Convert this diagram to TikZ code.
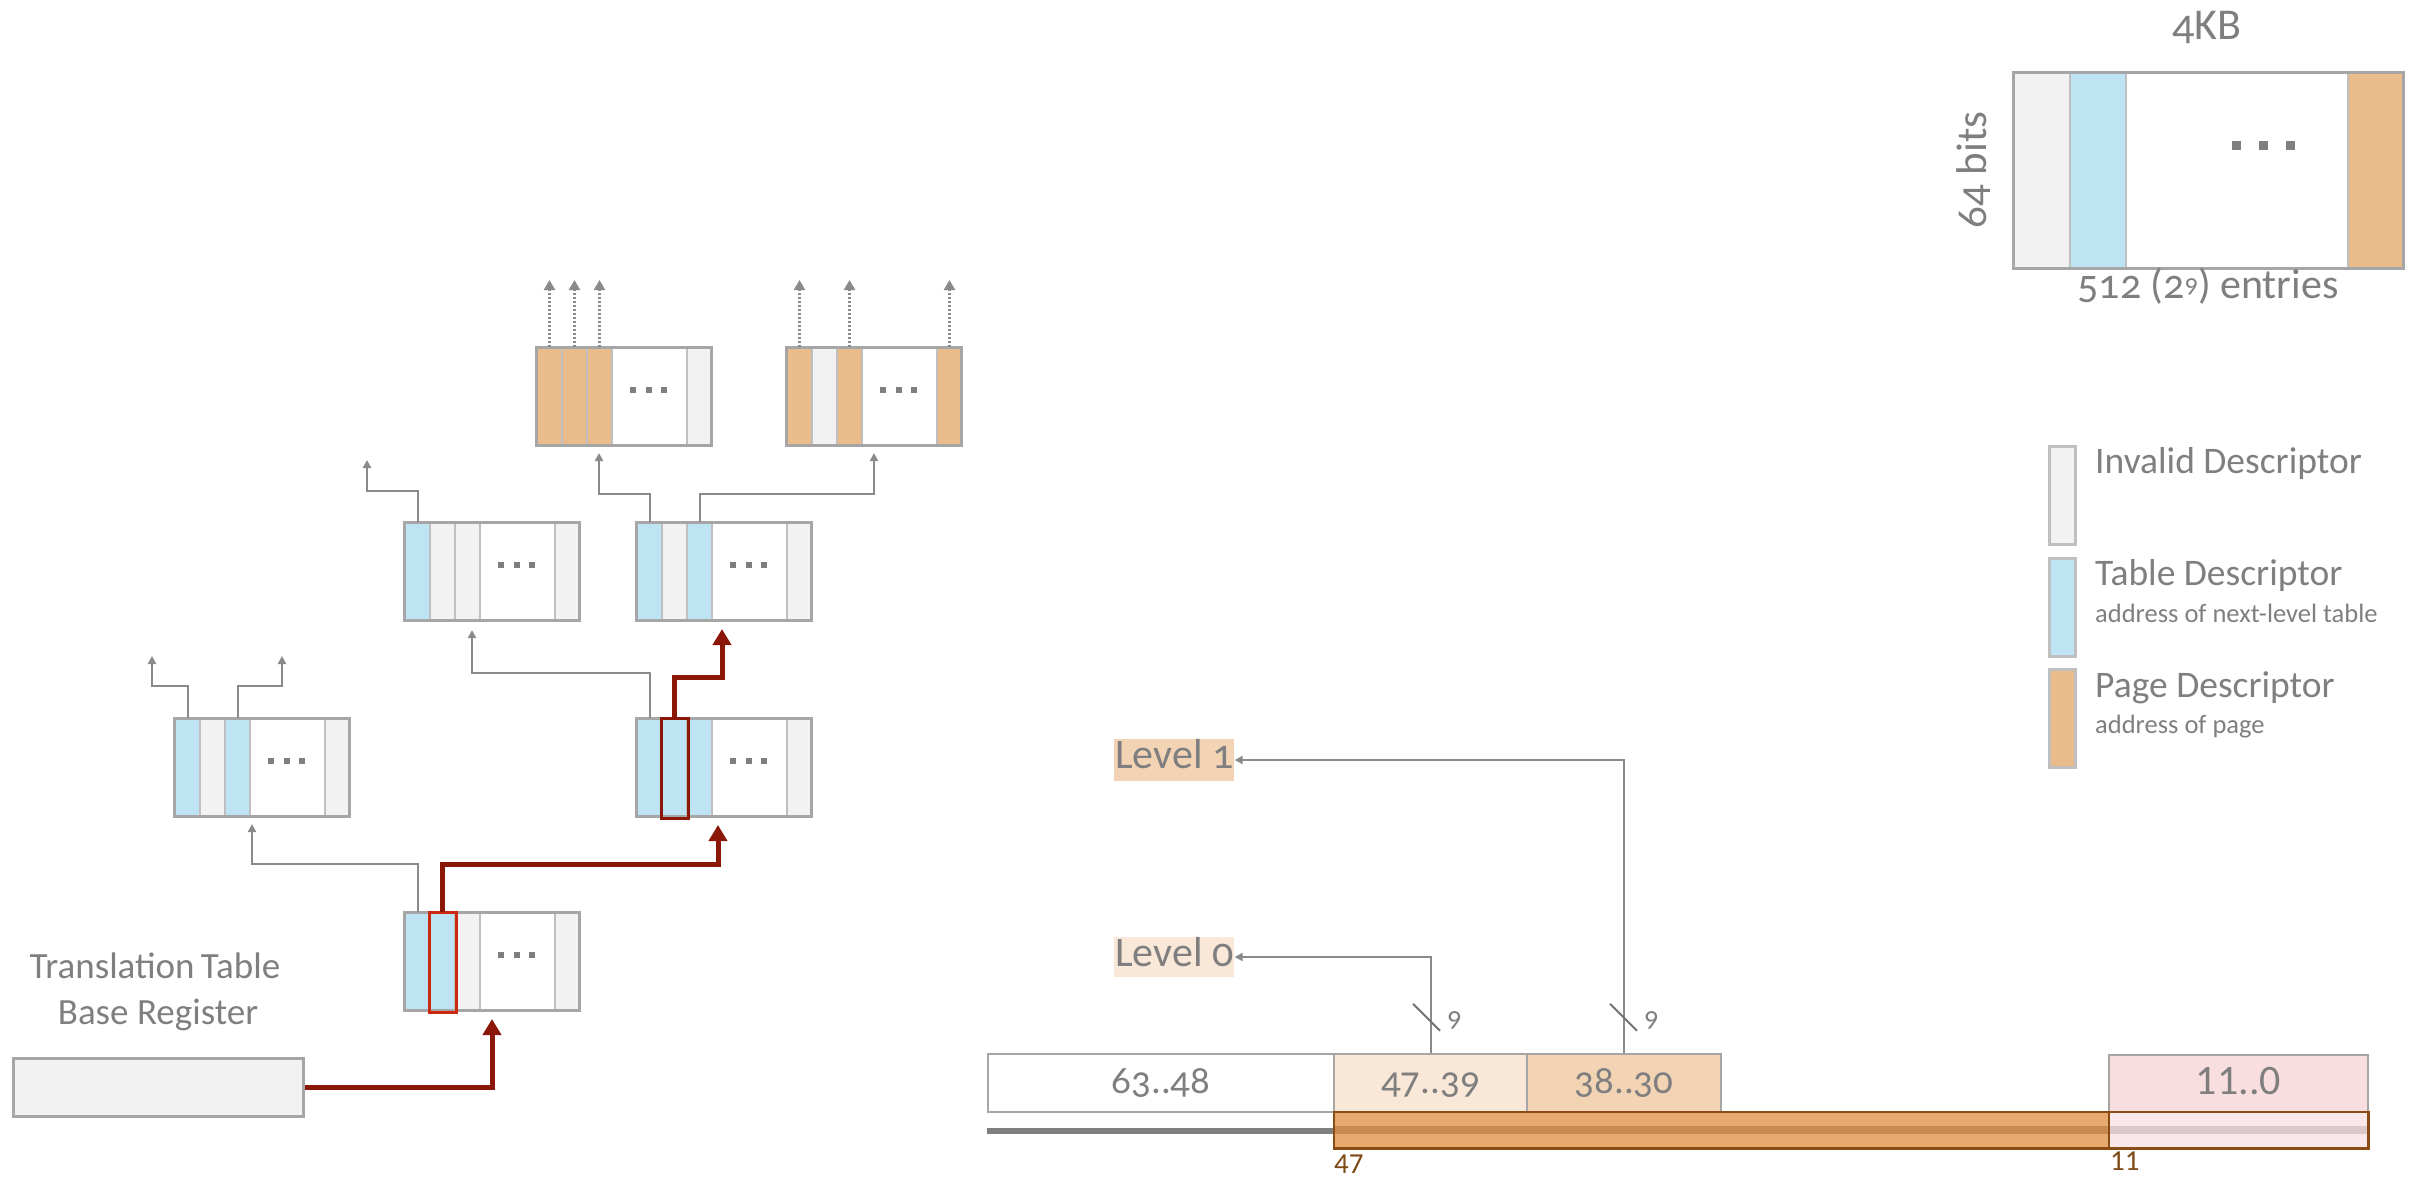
\documentclass[tikz,border=0pt]{standalone}
\usepackage{fontspec}
\setmainfont{Carlito}[Numbers=OldStyle]
\newfontfamily\lining{Carlito}[Numbers=Lining]
\usetikzlibrary{arrows.meta,calc}

\definecolor{txtgray}{HTML}{7F7F7F}
\definecolor{frame}{HTML}{A6A6A6}
\definecolor{sep}{HTML}{BFBFBF}
\definecolor{inv}{HTML}{F2F2F2}
\definecolor{tbl}{HTML}{BEE3F3}
\definecolor{pg}{HTML}{EABB8B}
\definecolor{wirec}{HTML}{8A8A8A}
\definecolor{walkc}{HTML}{8B1708}
\definecolor{hot}{HTML}{CC2A10}
\definecolor{lvA}{HTML}{F9E7D8}
\definecolor{lvB}{HTML}{F2D3B4}
\definecolor{lowbits}{HTML}{F9DEE0}
\definecolor{barbrown}{HTML}{8B4B14}
\definecolor{barfill}{HTML}{E6A96E}
\definecolor{barstripe}{HTML}{C98B52}
\definecolor{pinkbar}{HTML}{FAE7E9}
\definecolor{pinkstripe}{HTML}{DCC7C9}
\definecolor{numbrown}{HTML}{7E4A16}

\tikzset{
  cellbox/.style={draw=sep, line width=2pt, inner sep=0pt, minimum width=25pt,
    minimum height=98pt, anchor=north west},
  tblframe/.style={draw=frame, line width=3pt, inner sep=0pt, minimum width=175pt,
    minimum height=98pt},
  wire/.style={draw=wirec, line width=2pt, -{Triangle[width=8pt,length=8pt]}},
  leaf/.style={draw=wirec, line width=2.5pt, dash pattern=on 2.2pt off 1.8pt,
    -{Triangle[width=11pt,length=10pt]}},
  walk/.style={draw=walkc, line width=5pt, -{Triangle[width=18pt,length=16pt]}},
  lbl/.style={text=txtgray, inner sep=0pt},
  field/.style={draw=frame, line width=2.5pt, inner sep=0pt, text=txtgray,
    text height=39pt, text depth=19pt, anchor=base,
    font=\fontsize{39}{42}\selectfont},
  swatch/.style={draw=sep, line width=3pt, inner sep=0pt, minimum width=26pt,
    minimum height=98pt, anchor=north west},
}

% one 4KB translation table: name, left, top, fills of entries 0,1,2 and the last one
\newcommand\pgtable[7]{%
  \node[cellbox, fill=#4] (#1-c0) at (#2,#3) {};
  \node[cellbox, fill=#5] (#1-c1) at (#2+25,#3) {};
  \node[cellbox, fill=#6] (#1-c2) at (#2+50,#3) {};
  \node[cellbox, fill=white, minimum width=75pt] (#1-gap) at (#2+75,#3) {};
  \node[cellbox, fill=#7] (#1-c6) at (#2+150,#3) {};
  \foreach \k in {-1,0,1}
    \fill[txtgray] (#2+109.5+\k*15.5,#3+40) rectangle ++(6,6);
  \node[tblframe] (#1) at (#2+87.5,#3+49) {};
}

\begin{document}
\begin{tikzpicture}[x=1pt,y=-1pt]
\useasboundingbox (0,0) rectangle (2412,1178);

% ---------- the table walk ----------
\pgtable{lz}{404}{912}{tbl}{tbl}{inv}{inv}
\pgtable{la}{174}{718}{tbl}{inv}{tbl}{inv}
\pgtable{lb}{636}{718}{tbl}{tbl}{tbl}{inv}
\pgtable{ma}{404}{522}{tbl}{inv}{inv}{inv}
\pgtable{mb}{636}{522}{tbl}{inv}{tbl}{inv}
\pgtable{ta}{536}{347}{pg}{pg}{pg}{inv}
\pgtable{tb}{786}{347}{pg}{inv}{pg}{pg}

\draw[hot, line width=3pt] (lz-c1.south west) rectangle (lz-c1.north east);
\draw[walkc, line width=3pt] (lb-c1.south west) rectangle (lb-c1.north east);

% base register
\node[draw=frame, fill=inv, line width=3pt, minimum width=290pt, minimum height=58pt,
  inner sep=0pt, anchor=north west] (ttbr) at (12,1057) {};
\node[lbl, anchor=base, font=\fontsize{37}{40}\selectfont] (ttbr-t1) at (155,978)
  {Translation\hspace{-2pt} Table};
\node[lbl, anchor=base, font=\fontsize{37}{40}\selectfont] (ttbr-t2) at (158,1024)
  {Base Register};

% arrow targets below each table
\coordinate (lz-in) at (492,1019);
\coordinate (la-in) at (252,824);
\coordinate (lb-in) at (718,825);
\coordinate (ma-in) at (472,630);
\coordinate (mb-in) at (722,629);
\coordinate (ta-in) at (599,453);
\coordinate (tb-in) at (874,453);
\coordinate (la-out1) at (152,656);
\coordinate (la-out2) at (282,656);
\coordinate (ma-out) at (367,460);

% ordinary descriptors
\draw[wire] (lz-c0.north) -- ++(0,-48) -| (la-in);
\draw[wire] (la-c0.north) -- ++(0,-32) -| (la-out1);
\draw[wire] (la-c2.north) -- ++(0,-32) -| (la-out2);
\draw[wire] (lb-c0.north) -- ++(0,-45) -| (ma-in);
\draw[wire] (ma-c0.north) -- ++(0,-31) -| (ma-out);
\draw[wire] (mb-c0.north) -- ++(0,-28) -| (ta-in);
\draw[wire] (mb-c2.north) -- ++(0,-28) -| (tb-in);

% page descriptors
\foreach \c in {ta-c0,ta-c1,ta-c2,tb-c0,tb-c2,tb-c6}
  \draw[leaf] (\c.north) -- ++(0,-67);

% the walk itself
\draw[walk] (ttbr.east) -| (lz-in);
\draw[walk] (lz-c1.north) -- ++(0,-48) -| (lb-in);
\draw[walk] (lb-c1.north) -- ++(0,-41) -| (mb-in);

% ---------- table format ----------
\node[cellbox, minimum width=56pt, minimum height=196pt, fill=inv] (blk-inv) at (2013,72) {};
\node[cellbox, minimum width=56pt, minimum height=196pt, fill=tbl] (blk-tbl) at (2069,72) {};
\node[cellbox, minimum width=222pt, minimum height=196pt, fill=white] (blk-gap) at (2125,72) {};
\node[cellbox, minimum width=56pt, minimum height=196pt, fill=pg] (blk-pg) at (2347,72) {};
\foreach \k in {0,1,2}
  \fill[txtgray] (2232+\k*27,141) rectangle ++(9,9);
\node[draw=frame, line width=3pt, inner sep=0pt, minimum width=390pt,
  minimum height=196pt] (blk) at (2208,170) {};
\node[lbl, anchor=base, font=\fontsize{44}{46}\selectfont] (blk-size) at (2207,39) {4KB};
\node[lbl, anchor=base, rotate=90, font=\fontsize{43}{46}\selectfont] (blk-h) at (1986,170) {64 bits};
\node[lbl, anchor=base, font=\fontsize{42}{46}\selectfont] (blk-n) at (2208,298)
  {512 (2\raisebox{6pt}{\fontsize{26}{26}\selectfont 9}) entries};

% ---------- legend ----------
\node[swatch, fill=inv] (key-inv) at (2048,445) {};
\node[swatch, fill=tbl] (key-tbl) at (2048,557) {};
\node[swatch, fill=pg] (key-pg) at (2048,668) {};
\node[lbl, anchor=base west, font=\fontsize{37.5}{40}\selectfont] (key-inv-t) at (2095,473) {Invalid Descriptor};
\node[lbl, anchor=base west, font=\fontsize{37.5}{40}\selectfont] (key-tbl-t) at (2095,585) {Table Descriptor};
\node[lbl, anchor=base west, font=\fontsize{26.5}{30}\selectfont] (key-tbl-s) at (2095,622) {address of next-level table};
\node[lbl, anchor=base west, font=\fontsize{37.5}{40}\selectfont] (key-pg-t) at (2095,697) {Page Descriptor};
\node[lbl, anchor=base west, font=\fontsize{26.5}{30}\selectfont] (key-pg-s) at (2095,733) {address of page};

% ---------- virtual address ----------
\node[field, minimum width=346pt, fill=white] (f6348) at (1161,1093) {63..48};
\node[field, minimum width=193pt, fill=lvA] (f4739) at (1430.5,1093) {47..39};
\node[field, minimum width=194pt, fill=lvB] (f3830) at (1624,1093) {38..30};
\node[field, minimum width=259pt, fill=lowbits, font=\fontsize{42}{44}\selectfont\lining]
  (f1100) at (2238.5,1094) {11..0};

\fill[txtgray] ($(f6348.south west)+(0,15)$) rectangle ($(f6348.south east)+(0,21)$);

\node[fill=barfill, inner sep=0pt, minimum width=775pt, minimum height=36pt,
  anchor=north west] (hibar) at (1334,1112) {};
\fill[barstripe] ($(hibar.west)+(0,-4)$) rectangle ($(hibar.east)+(0,4)$);
\draw[barbrown, line width=2.5pt] (hibar.north west) rectangle (hibar.south east);
\node[fill=pinkbar, inner sep=0pt, minimum width=259pt, minimum height=36pt,
  anchor=north west] (lobar) at (2109,1112) {};
\fill[pinkstripe] ($(lobar.west)+(0,-4)$) rectangle ($(lobar.east)+(0,4)$);
\draw[barbrown, line width=2.5pt] (lobar.north west) rectangle (lobar.south east);

\node[anchor=base west, inner sep=0pt, text=numbrown, font=\fontsize{29}{30}\selectfont\lining]
  (n47) at (1334,1173) {47};
\node[anchor=base west, inner sep=0pt, text=numbrown, font=\fontsize{29}{30}\selectfont\lining]
  (n11) at (2110,1170) {11};

% index selectors
\node[lbl, anchor=base west, fill=lvB, inner xsep=1pt, text height=29pt, text depth=13pt,
  font=\fontsize{42}{44}\selectfont] (lvl1) at (1114,768) {Level 1};
\node[lbl, anchor=base west, fill=lvA, inner xsep=1pt, text height=29pt, text depth=11pt,
  font=\fontsize{42}{44}\selectfont] (lvl0) at (1114,966) {Level 0};
\draw[wire] (f4739.north) |- (lvl0.east);
\draw[wire] (f3830.north) |- (lvl1.east);
\draw[draw=txtgray!90!black, line width=2pt] ($(f4739.north)+(-17.5,-49)$) -- ++(27,27);
\draw[draw=txtgray!90!black, line width=2pt] ($(f3830.north)+(-14,-49)$) -- ++(27,27);
\node[lbl, font=\fontsize{28}{30}\selectfont] (w0) at ($(f4739.north)+(24,-32)$) {9};
\node[lbl, font=\fontsize{28}{30}\selectfont] (w1) at ($(f3830.north)+(27.5,-32)$) {9};
\end{tikzpicture}
\end{document}
